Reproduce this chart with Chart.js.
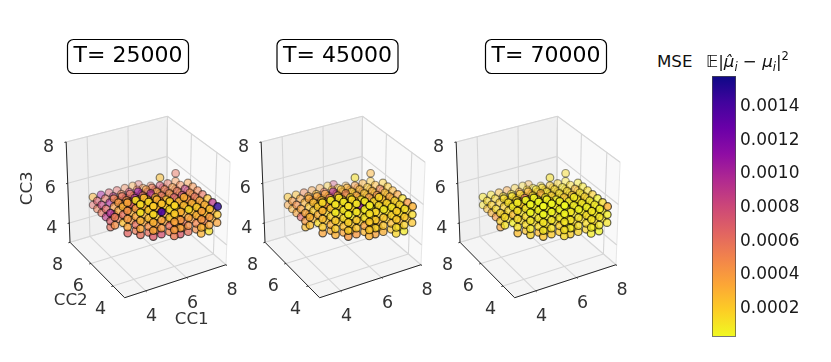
<!DOCTYPE html>
<html>
<head>
<meta charset="utf-8">
<script src="https://cdn.jsdelivr.net/npm/chart.js@4"></script>
<style>
  html, body { margin: 0; background: #fff; overflow: hidden; }
  canvas { position: absolute; top: 0; }
  .lab { position: absolute; font: 16.67px "DejaVu Sans"; color: #111; white-space: nowrap; line-height: 20px; }
  .lab i { font-style: italic; }
  .lab sub { font-size: 11.5px; line-height: 0; }
  .lab sup { font-size: 11.5px; line-height: 0; }
</style>
</head>
<body>
<canvas id="p0" width="250" height="362" style="left:0;width:250px;height:362px"></canvas>
<canvas id="p1" width="250" height="362" style="left:195px;width:250px;height:362px"></canvas>
<canvas id="p2" width="250" height="362" style="left:390px;width:250px;height:362px"></canvas>
<canvas id="bar" width="131" height="362" style="left:700px;width:131px;height:362px"></canvas>
<div class="lab" style="left:657px;top:52px">MSE</div>
<div class="lab" style="left:706px;top:52px">𝔼|<i>μ̂<sub>i</sub></i> − <i>μ<sub>i</sub></i>|<sup>2</sup></div>
<script>
const panelTitles = ['T= 25000', 'T= 45000', 'T= 70000'];
const axisTicks = [4, 6, 8];
const barTicks = [0.0002, 0.0004, 0.0006, 0.0008, 0.001, 0.0012, 0.0014];
const mseMin = 0.000032, mseMax = 0.001582;
const mseUnit = 0.00001;

// lattice points, one line per CC1 column, then the inner layers and the front bump
const cc1 = [
  4.1,4.1,4.1,4.1,4.1,4.1,4.1,4.1,4.1,4.1,4.1,4.1,4.1,
  4.5,4.5,4.5,4.5,4.5,4.5,4.5,4.5,4.5,4.5,4.5,4.5,4.5,
  4.9,4.9,4.9,4.9,4.9,4.9,4.9,4.9,4.9,4.9,4.9,4.9,
  5.3,5.3,5.3,5.3,5.3,5.3,5.3,5.3,5.3,5.3,5.3,5.3,5.3,
  5.7,5.7,5.7,5.7,5.7,5.7,5.7,5.7,5.7,5.7,5.7,5.7,5.7,
  6.1,6.1,6.1,6.1,6.1,6.1,6.1,6.1,6.1,6.1,6.1,6.1,6.1,6.1,
  6.4,6.4,6.4,6.4,6.4,6.4,6.4,6.4,6.4,6.4,6.4,6.4,6.4,6.4,
  6.8,6.8,6.8,6.8,6.8,6.8,6.8,6.8,6.8,6.8,6.8,6.8,6.8,6.8,
  7.2,7.2,7.2,7.2,7.2,7.2,7.2,7.2,7.2,7.2,7.2,7.2,7.2,7.2,
  7.6,7.6,7.6,7.6,7.6,7.6,7.6,7.6,7.6,7.6,7.6,7.6,7.6,7.6,
  8,8,8,8,8,8,8,8,8,8,8,8,8,8,8,8,
  4.5,4.5,4.5, 4.9,4.9,4.9,4.9, 5.3,5.3,5.3,5.3,5.3, 5.7,5.7,5.7,5.7,5.7,
  6.1,6.1,6.1,6.1,6.1,6.1, 6.4,6.4,6.4,6.4,6.4,6.4, 6.8,6.8,6.8,6.8,6.8,6.8,
  7.2,7.2,7.2,7.2,7.2,7.2, 7.6,7.6,7.6,7.6,7.6,7.6,
  4.9,5.3,5.7,6.1,6.4,6.8,7.2, 7.6,7.6,7.6,7.6,7.6, 8,8,8,8,8,
  4.9,5.3,5.7,6.1,6.4,6.8,7.2,7.6,
  4.5,4.9,4.9,5.3,5.3,5.3,5.7,5.7,6.1,6.1,6.8
];
const cc2 = [
  7.8,7.8,7.4,7.4,7.0,7.0,6.6,6.6,6.2,6.2,6.2,5.8,5.8,
  7.8,7.4,7.0,6.6,6.6,6.2,6.2,5.8,5.8,5.4,5.4,5.4,5.4,
  7.8,7.4,7.0,6.6,6.2,5.8,5.4,5.4,5.0,5.0,5.0,5.0,
  7.8,7.4,7.0,6.6,6.2,5.8,5.4,5.0,5.0,4.6,4.6,4.6,4.6,
  7.8,7.4,7.0,6.6,6.2,5.8,5.4,5.0,5.0,4.6,4.6,4.6,4.6,
  7.8,7.4,7.0,6.6,6.2,5.8,5.4,5.0,4.6,4.6,4.2,4.2,4.2,4.2,
  7.8,7.4,7.0,6.6,6.2,5.8,5.4,5.0,4.6,4.6,4.2,4.2,4.2,4.2,
  7.4,7.0,6.6,6.6,6.2,5.8,5.4,5.0,4.6,4.6,4.2,4.2,4.2,4.2,
  7.0,6.6,6.6,6.2,5.8,5.4,5.0,4.6,4.2,4.2,3.8,3.8,3.8,3.8,
  6.6,6.6,6.6,6.2,5.8,5.4,5.0,4.6,4.2,4.2,3.8,3.8,3.8,3.8,
  6.2,6.2,5.8,5.8,5.4,5.4,5.0,5.0,4.6,4.6,4.2,4.2,4.2,3.8,3.8,3.8,
  6.6,6.2,5.8, 6.6,6.2,5.8,5.4, 6.6,6.2,5.8,5.4,5.0, 6.6,6.2,5.8,5.4,5.0,
  6.6,6.2,5.8,5.4,5.0,4.6, 6.6,6.2,5.8,5.4,5.0,4.6, 6.6,6.2,5.8,5.4,5.0,4.6,
  6.2,5.8,5.4,5.0,4.6,4.2, 6.2,5.8,5.4,5.0,4.6,4.2,
  5.8,5.4,5.4,5.0,5.0,5.0,4.6, 6.2,5.8,5.4,5.0,4.6, 6.2,5.8,5.4,5.0,4.6,
  5.4,5.0,5.0,4.6,4.6,4.6,4.2,4.2,
  5.4,5.4,5.0,5.4,5.0,4.6,5.0,4.6,4.6,4.2,4.6
];
const cc3 = [
  5.1,4.7,5.1,4.7,5.1,4.7,5.1,4.7,5.1,4.7,4.4,5.1,4.7,
  5.1,5.1,5.1,5.5,4.7,5.5,4.7,5.5,4.7,5.5,5.1,4.7,4.4,
  5.1,5.1,5.1,5.5,5.5,5.5,5.5,4.7,5.5,5.1,4.7,4.4,
  5.1,5.1,5.1,5.5,5.5,5.5,5.5,5.5,4.7,5.5,5.1,4.7,4.4,
  5.1,5.1,5.1,5.5,5.5,5.5,5.5,5.5,4.7,5.5,5.1,4.7,4.4,
  5.1,5.1,5.1,5.5,5.5,5.5,5.5,5.5,5.5,4.7,5.5,5.1,4.7,4.4,
  5.1,5.1,5.1,5.5,5.5,5.5,5.5,5.5,5.5,4.7,5.5,5.1,4.7,4.4,
  5.1,5.1,5.9,5.5,5.5,5.5,5.5,5.5,5.5,4.7,5.5,5.1,4.7,4.4,
  5.1,5.5,5.1,5.5,5.5,5.5,5.5,5.5,5.5,4.7,5.5,5.1,4.7,4.4,
  5.9,5.5,5.1,5.5,5.5,5.5,5.5,5.5,5.5,4.7,5.5,5.1,4.7,4.4,
  5.5,5.1,5.5,5.1,5.5,5.1,5.5,5.1,5.5,5.1,5.5,5.1,4.7,5.5,5.1,4.7,
  5.1,5.1,5.1, 5.1,5.1,5.1,5.1, 5.1,5.1,5.1,5.1,5.1, 5.1,5.1,5.1,5.1,5.1,
  5.1,5.1,5.1,5.1,5.1,5.1, 5.1,5.1,5.1,5.1,5.1,5.1, 5.1,5.1,5.1,5.1,5.1,5.1,
  5.1,5.1,5.1,5.1,5.1,5.1, 5.1,5.1,5.1,5.1,5.1,5.1,
  4.7,4.7,4.7,4.7,4.7,4.7,4.7, 4.7,4.7,4.7,4.7,4.7, 4.7,4.7,4.7,4.7,4.7,
  4.4,4.4,4.4,4.4,4.4,4.4,4.4,4.4,
  5.9,5.9,5.9,5.9,5.9,5.9,5.9,5.9,5.9,5.9,5.9
];
// colour values in units of mseUnit
const mse25000 = [
  30,65,70,55,85,60,65,90,95,70,60,55,45,
  105,60,100,50,80,40,55,30,25,45,40,35,65,
  70,90,55,60,45,70,40,60,12,30,35,60,
  65,50,75,60,100,40,30,20,45,15,30,35,70,
  50,85,45,110,55,35,25,30,40,140,35,40,75,
  35,60,70,40,95,30,45,20,14,60,20,35,40,55,
  65,40,90,55,35,60,25,30,18,45,30,40,35,70,
  55,80,25,75,50,40,70,30,25,60,14,35,45,60,
  65,60,90,40,55,80,45,30,20,50,35,40,30,30,
  60,45,70,50,85,45,60,35,30,55,25,40,35,12,
  40,60,45,40,50,30,60,35,25,30,90,35,30,150,22,35,
  40,35,60, 55,45,30,35, 70,40,45,30,25, 45,75,35,30,20,
  50,30,40,25,35,20, 60,40,25,35,20,30, 45,35,55,40,25,30,
  50,30,40,35,25,30, 35,60,40,30,35,25,
  40,35,30,35,60,30,40, 45,30,55,35,30, 35,40,30,45,25,
  55,60,45,50,35,40,45,30,
  35,12,14,25,15,20,30,22,18,16,30
];
const mse45000 = [
  22,35,40,30,45,35,35,65,35,40,25,30,25,
  25,35,30,35,30,25,30,20,14,28,25,20,35,
  50,30,40,35,25,40,22,30,8,20,20,30,
  38,25,45,35,55,22,18,10,25,8,18,20,40,
  35,60,28,100,30,20,15,18,22,10,20,22,40,
  20,30,40,25,50,18,25,120,8,35,12,20,22,30,
  80,22,45,30,20,35,14,18,10,25,15,20,18,35,
  30,45,12,40,28,22,40,16,14,30,8,20,22,30,
  35,30,50,22,30,45,25,16,10,25,18,20,14,16,
  30,22,38,28,50,25,35,18,16,30,12,20,18,8,
  20,35,22,20,28,16,35,18,12,16,40,18,25,30,14,22,
  22,20,30, 28,25,16,18, 35,22,25,18,14, 25,40,20,16,10,
  28,16,22,14,18,10, 30,22,14,18,10,16, 25,18,30,22,14,16,
  25,16,20,18,12,16, 20,30,22,16,18,12,
  22,20,16,18,30,16,20, 25,16,28,18,16, 18,22,16,25,14,
  30,35,25,28,18,20,22,16,
  15,8,10,12,9,12,14,10,9,8,16
];
const mse70000 = [
  10,12,15,25,18,30,14,40,16,20,35,14,12,
  12,15,18,14,20,12,14,8,6,12,14,12,25,
  25,14,20,12,16,22,10,14,3,10,10,16,
  35,12,22,16,60,10,8,5,14,3,10,10,22,
  18,35,12,30,14,10,7,8,12,4,10,12,20,
  15,16,22,12,30,8,12,10,4,18,5,10,12,15,
  30,10,28,14,10,18,6,90,5,12,8,10,8,18,
  14,25,12,20,14,12,22,8,6,16,4,10,12,16,
  18,16,25,10,14,22,12,8,5,14,9,10,7,8,
  14,12,20,14,25,12,18,9,8,16,6,10,9,4,
  10,18,10,10,14,8,18,9,6,8,14,9,12,30,7,10,
  18,15,25, 20,18,12,14, 28,15,18,12,9, 18,30,15,12,8,
  22,12,15,10,14,8, 25,15,10,14,8,12, 18,14,22,15,10,12,
  18,12,15,14,9,12, 15,22,15,12,14,9,
  15,15,12,14,22,12,15, 18,12,20,14,12, 14,15,12,18,10,
  22,26,18,20,14,15,16,12,
  8,3,4,5,3,4,6,3,4,3,7
];
const panelMse = [mse25000, mse45000, mse70000];

const plasma = ['#0d0887','#41049d','#6a00a8','#8f0da4','#b12a90','#cc4778','#e16462','#f2844b','#fca636','#fcce25','#f0f921'];
const titleCenters = [128, 142.5, 156];

// mplot3d view: elev 30, azim -120, camera distance 10, box limits 3..8
const LO = 3, HI = 8, PX = 117, CX = 146.8, CY = 203.9;
function project(x, y, z) {
  const dx = (x - LO) / (HI - LO) - 0.5, dy = (y - LO) / (HI - LO) - 0.5, dz = (z - LO) / (HI - LO) - 0.5;
  const xv = 0.866025 * dx - 0.5 * dy;
  const yv = 0.25 * dx + 0.433013 * dy + 0.866025 * dz;
  const t = 10 - (-0.433013 * dx - 0.75 * dy + 0.5 * dz);
  return { x: 10 * xv / t, y: 10 * yv / t, t };
}

function hexRgb(h) { return [1, 3, 5].map((i) => parseInt(h.substr(i, 2), 16)); }
function msePlasma(v, alpha) {
  const f = (1 - (v - mseMin) / (mseMax - mseMin)) * (plasma.length - 1);
  const i = Math.max(0, Math.min(plasma.length - 2, Math.floor(f)));
  const a = hexRgb(plasma[i]), b = hexRgb(plasma[i + 1]), k = Math.max(0, Math.min(1, f - i));
  const c = a.map((n, j) => Math.round(n + (b[j] - n) * k));
  return `rgba(${c[0]},${c[1]},${c[2]},${alpha})`;
}

function seg(a, b, color, width, order) {
  return {
    data: [project(...a), project(...b)], showLine: true, pointRadius: 0,
    borderColor: color, borderWidth: width, order, clip: false, fill: false
  };
}
function pane(corners, color) {
  return {
    data: corners.concat([corners[0]]).map((c) => project(...c)), showLine: true, pointRadius: 0,
    borderColor: '#e6e6e6', borderWidth: 1, backgroundColor: color, fill: 'shape', order: 5, clip: false
  };
}

function boxDatasets() {
  const out = [
    pane([[LO, HI, LO], [HI, HI, LO], [HI, HI, HI], [LO, HI, HI]], '#f0f0f0'),
    pane([[HI, HI, LO], [HI, LO, LO], [HI, LO, HI], [HI, HI, HI]], '#f9f9f9'),
    pane([[LO, LO, LO], [HI, LO, LO], [HI, HI, LO], [LO, HI, LO]], '#f5f5f5')
  ];
  const grid = '#d6d6d6', dark = '#262626';
  axisTicks.forEach((v) => {
    out.push(seg([v, LO, LO], [v, HI, LO], grid, 1.1, 4), seg([v, HI, LO], [v, HI, HI], grid, 1.1, 4));
    out.push(seg([LO, v, LO], [HI, v, LO], grid, 1.1, 4), seg([HI, v, LO], [HI, v, HI], grid, 1.1, 4));
    out.push(seg([LO, HI, v], [HI, HI, v], grid, 1.1, 4), seg([HI, HI, v], [HI, LO, v], grid, 1.1, 4));
    out.push(seg([v, LO, LO], [v, LO - 0.08, LO], dark, 1, 2));
    out.push(seg([LO, v, LO], [LO - 0.08, v, LO], dark, 1, 2));
    out.push(seg([LO, HI, v], [LO - 0.08, HI, v], dark, 1, 2));
  });
  out.push(seg([LO, HI, LO], [LO, HI, HI], dark, 1, 2));
  out.push(seg([LO, HI, LO], [LO, LO, LO], dark, 1, 2));
  out.push(seg([LO, LO, LO], [HI, LO, LO], dark, 1, 2));
  return out;
}

// scatter sorted back to front, faded with depth like depthshade
function pointDataset(values) {
  const pts = cc1.map((x, i) => {
    const p = project(x, cc2[i], cc3[i]);
    p.v = values[i] * mseUnit;
    return p;
  });
  const tMax = Math.max(...pts.map((p) => p.t)), tMin = Math.min(...pts.map((p) => p.t));
  pts.sort((a, b) => b.t - a.t);
  const alpha = pts.map((p) => 1 - 0.65 * Math.pow((p.t - tMin) / (tMax - tMin), 0.8));
  return {
    data: pts, pointRadius: 3.8, pointBorderWidth: 1.2, showLine: false, order: 0, clip: false,
    pointBackgroundColor: pts.map((p, i) => msePlasma(p.v, alpha[i].toFixed(2))),
    pointBorderColor: pts.map((p, i) => `rgba(0,0,0,${(alpha[i] * 0.85).toFixed(2)})`)
  };
}

const panelText = {
  id: 'panelText',
  afterDraw(chart, args, opts) {
    const { ctx, scales } = chart;
    const at = (x, y, z) => {
      const p = project(x, y, z);
      return [scales.x.getPixelForValue(p.x), scales.y.getPixelForValue(p.y)];
    };
    const label = (txt, x, y) => ctx.fillText(txt, x, y);
    ctx.save();
    ctx.textAlign = 'center';
    ctx.textBaseline = 'middle';
    ctx.font = '17.5px "DejaVu Sans"';
    ctx.fillStyle = '#333';
    axisTicks.forEach((v) => {
      let a = at(v, LO, LO);
      label(String(v), a[0] + 6, a[1] + 25.5);
      a = at(LO, v, LO);
      label(String(v), a[0] - 12.5, a[1] + 23);
      a = at(LO, HI, v);
      label(String(v), a[0] - 17.5, a[1] + 5.5);
    });
    if (opts.axisNames) {
      ctx.font = '16.67px "DejaVu Sans"';
      label('CC1', 191.7, 319.3);
      label('CC2', 70.7, 300.7);
      ctx.translate(27.7, 188.3);
      ctx.rotate(-Math.PI / 2);
      label('CC3', 0, 0);
      ctx.rotate(Math.PI / 2);
      ctx.translate(-27.7, -188.3);
    }
    const cx = opts.titleX;
    ctx.beginPath();
    ctx.roundRect(cx - 60.5, 39.5, 121, 34, 6);
    ctx.fillStyle = '#fff';
    ctx.fill();
    ctx.lineWidth = 1.2;
    ctx.strokeStyle = '#000';
    ctx.stroke();
    ctx.fillStyle = '#000';
    ctx.font = '22px "DejaVu Sans"';
    label(opts.title, cx, 56.5);
    ctx.restore();
  }
};

panelTitles.forEach((title, k) => {
  new Chart(document.getElementById('p' + k), {
    type: 'scatter',
    data: { datasets: [pointDataset(panelMse[k])].concat(boxDatasets()) },
    options: {
      responsive: false,
      animation: false,
      events: [],
      layout: { padding: 0, autoPadding: false },
      scales: {
        x: { type: 'linear', display: false, min: -CX / PX, max: (250 - CX) / PX },
        y: { type: 'linear', display: false, min: (CY - 362) / PX, max: CY / PX }
      },
      plugins: {
        legend: { display: false },
        tooltip: { enabled: false },
        panelText: { title, titleX: titleCenters[k], axisNames: k === 0 }
      }
    },
    plugins: [panelText]
  });
});

new Chart(document.getElementById('bar'), {
  type: 'bar',
  data: {
    labels: [''],
    datasets: [{
      data: [[mseMin, mseMax]],
      barPercentage: 1,
      categoryPercentage: 1,
      borderColor: '#4a4a4a',
      borderWidth: 1,
      borderSkipped: false,
      backgroundColor(ctx) {
        const area = ctx.chart.chartArea;
        if (!area) return '#fca636';
        const g = ctx.chart.ctx.createLinearGradient(0, area.top, 0, area.bottom);
        plasma.forEach((c, i) => g.addColorStop(i / (plasma.length - 1), c));
        return g;
      }
    }]
  },
  options: {
    responsive: false,
    animation: false,
    events: [],
    layout: { padding: { left: 12, top: 76, bottom: 25.3, right: 0 } },
    scales: {
      x: { display: false },
      y: {
        position: 'right',
        min: mseMin,
        max: mseMax,
        grid: { display: false, drawTicks: false },
        border: { display: false },
        afterBuildTicks(scale) { scale.ticks = barTicks.map((value) => ({ value })); },
        afterFit(scale) { scale.width = 95; },
        ticks: {
          padding: 4,
          color: '#1a1a1a',
          font: { family: '"DejaVu Sans"', size: 17 },
          callback: (v) => v.toFixed(4)
        }
      }
    },
    plugins: { legend: { display: false }, tooltip: { enabled: false } }
  }
});
</script>
</body>
</html>
